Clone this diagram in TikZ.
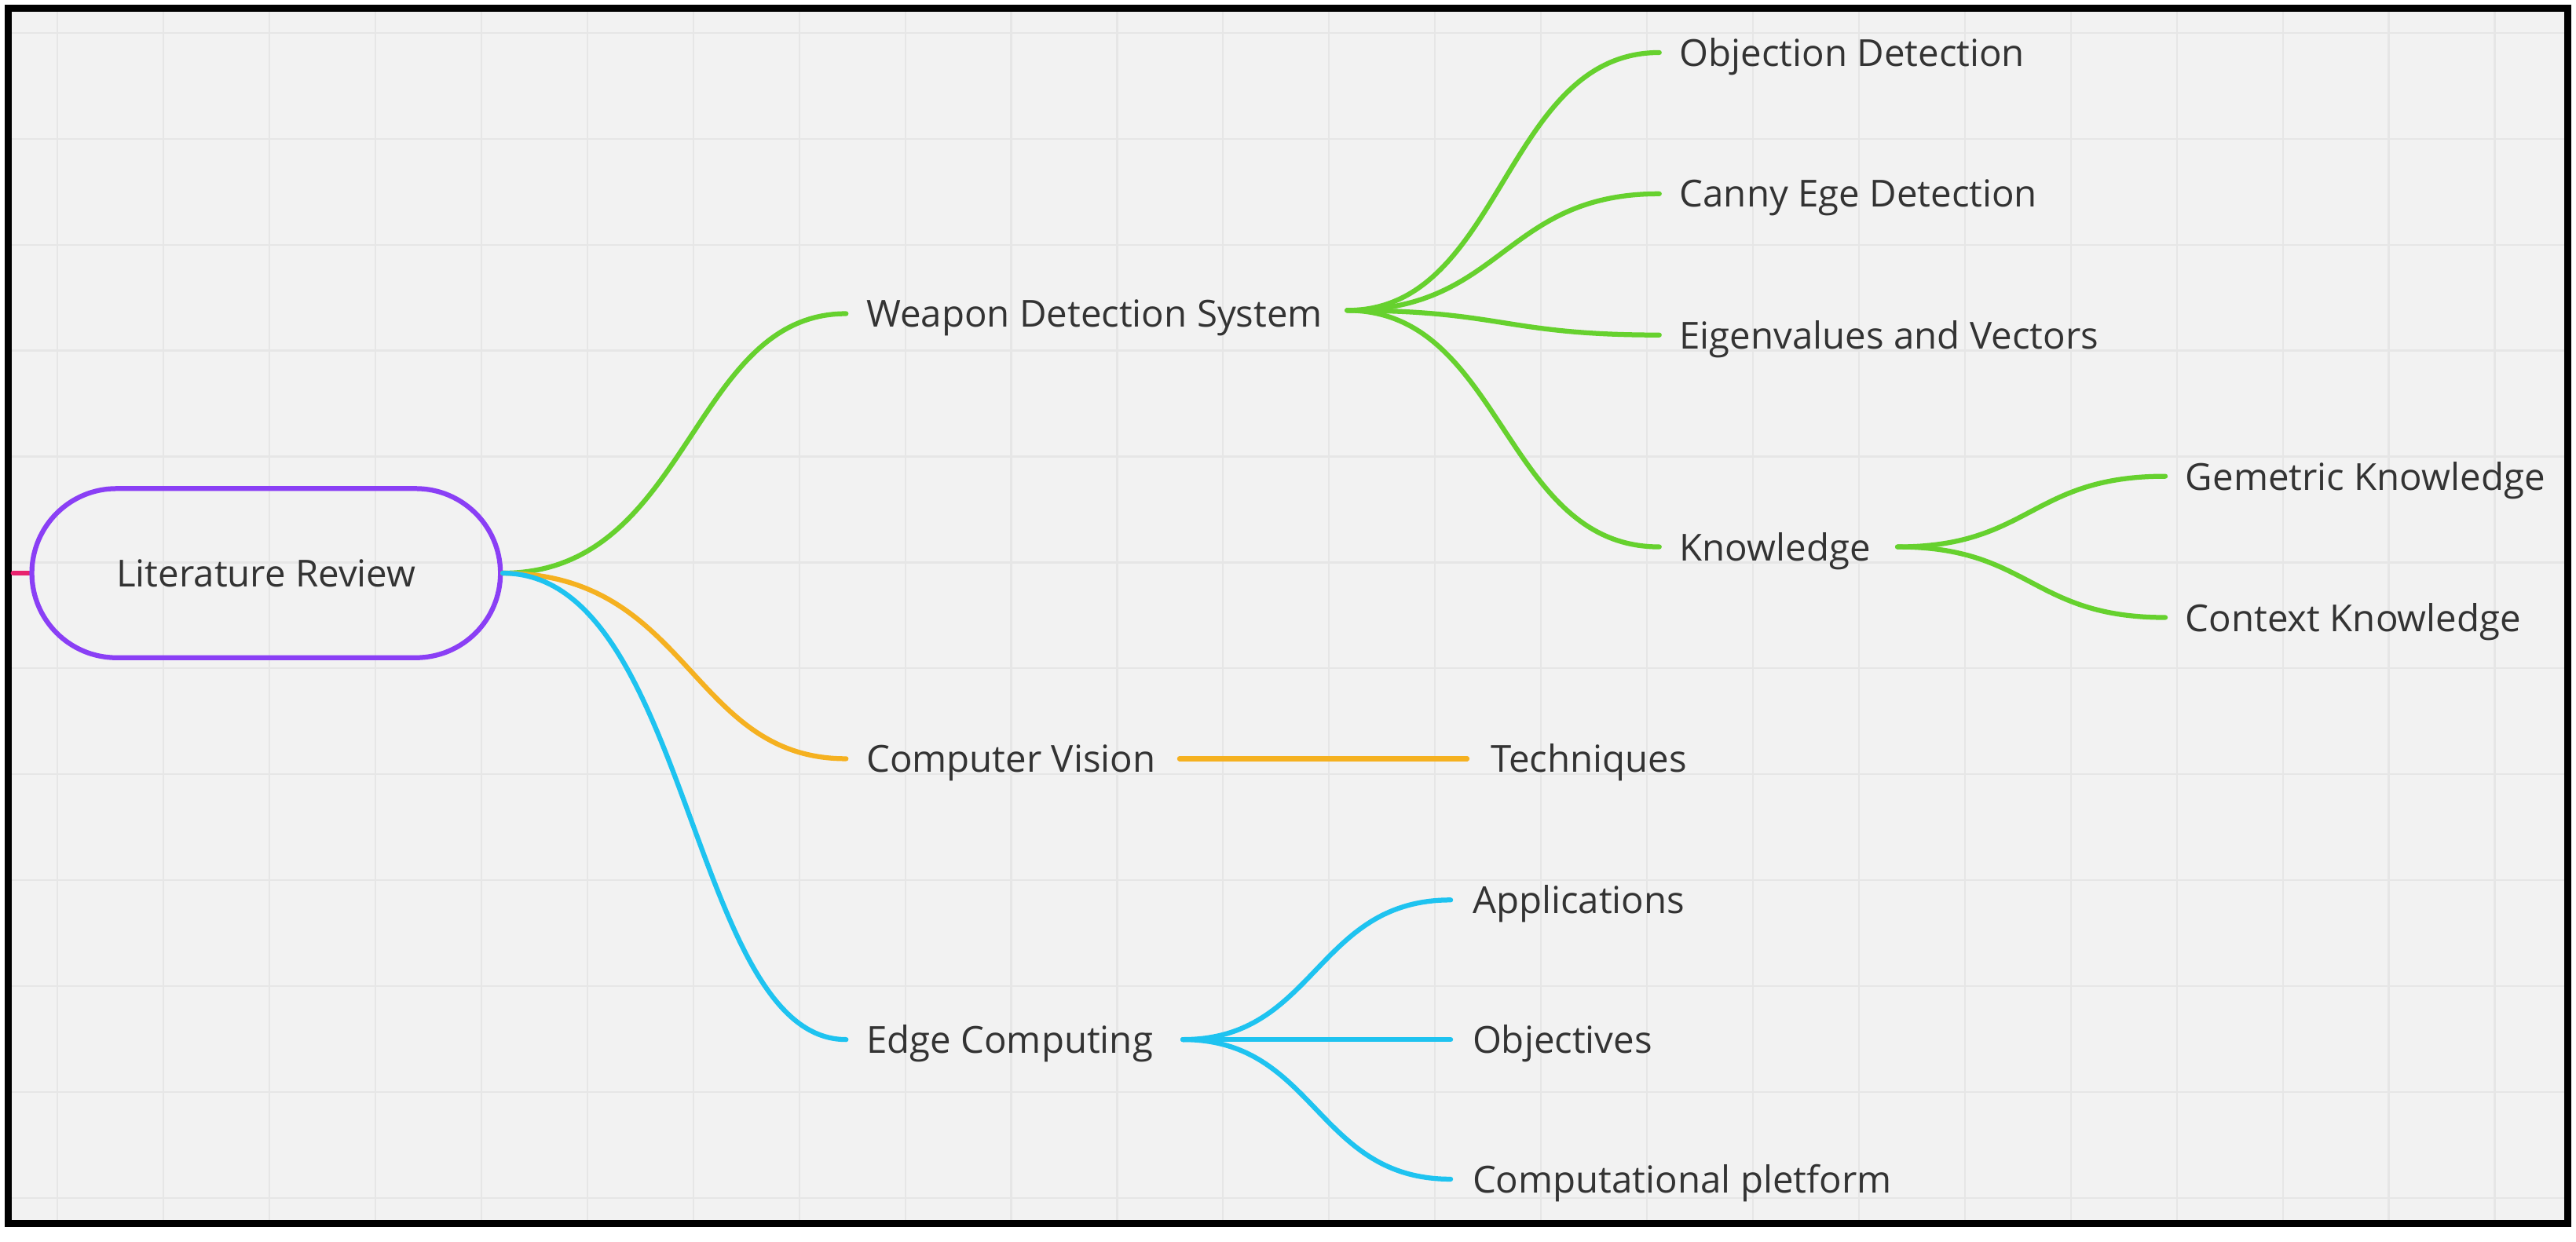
\documentclass[tikz,border=0pt]{standalone}
\usepackage{fontspec}
\setmainfont{Open Sans}
\usetikzlibrary{shapes.misc}
\definecolor{bg}{HTML}{F2F2F2}
\definecolor{gridc}{HTML}{E6E6E6}
\definecolor{tx}{HTML}{333333}
\definecolor{gr}{HTML}{66D12E}
\definecolor{og}{HTML}{F5B120}
\definecolor{bl}{HTML}{1EC3F0}
\definecolor{pu}{HTML}{8A3FF5}
\definecolor{pk}{HTML}{E8226E}
\begin{document}
\begin{tikzpicture}[x=0.02cm,y=-0.02cm,
  lbl/.style={font=\fontsize{12.9}{15}\selectfont, text=tx, inner sep=0pt, anchor=west, yshift=-0.05cm},
  br/.style={line width=1.7pt, line cap=round}]
\useasboundingbox (0,0) rectangle (1568,756);
\fill[white] (0,0) rectangle (1568,756);
\fill[bg] (5,5) rectangle (1563,745);
\begin{scope}
\clip (5,5) rectangle (1563,745);
\foreach \i in {0,...,24} \draw[gridc, line width=0.6pt] (35+64.5*\i,5) -- (35+64.5*\i,745);
\foreach \j in {0,...,11} \draw[gridc, line width=0.6pt] (5,20+64.5*\j) -- (1563,20+64.5*\j);
\end{scope}
\draw[black, line width=2.4pt] (5,5) rectangle (1563,745);

% root
\draw[pk, br] (8,349) -- (18,349);
\node[rounded rectangle, draw=pu, line width=1.7pt, minimum width=5.94cm, minimum height=2.06cm,
  font=\fontsize{12.9}{15}\selectfont, text=tx] (root) at (162,349) {Literature Review};
\coordinate (r) at (306,349);

% level 1
\node[lbl] (wds) at (527,191) {Weapon Detection System};
\node[lbl] (cv) at (527,462) {Computer Vision};
\node[lbl] (ec) at (527,633) {Edge Computing};
\coordinate (wdsL) at (515,191); \coordinate (wdsR) at (820,189);
\coordinate (cvL) at (515,462); \coordinate (cvR) at (718,462);
\coordinate (ecL) at (515,633); \coordinate (ecR) at (720,633);

\draw[gr,br] (r) .. controls (420,349) and (420,191) .. (wdsL);
\draw[og,br] (r) .. controls (420,349) and (420,462) .. (cvL);
\draw[bl,br] (r) .. controls (420,349) and (420,633) .. (ecL);

% WDS children
\node[lbl] (od) at (1022,32) {Objection Detection};
\node[lbl] (ced) at (1022,118) {Canny Ege Detection};
\node[lbl] (ev) at (1022,204) {Eigenvalues and Vectors};
\node[lbl] (kn) at (1022,333) {Knowledge};
\foreach \y in {32,118,204,333}
  \draw[gr,br] (wdsR) .. controls (915,189) and (915,\y) .. (1010,\y);

% Knowledge children
\coordinate (knR) at (1155,333);
\node[lbl] (gk) at (1330,290) {Gemetric Knowledge};
\node[lbl] (ck) at (1330,376) {Context Knowledge};
\foreach \y in {290,376}
  \draw[gr,br] (knR) .. controls (1236,333) and (1236,\y) .. (1318,\y);

% CV child
\node[lbl] (tq) at (907,462) {Techniques};
\draw[og,br] (cvR) -- (893,462);

% EC children
\node[lbl] (ap) at (896,548) {Applications};
\node[lbl] (ob) at (896,633) {Objectives};
\node[lbl] (cp) at (896,718) {Computational pletform};
\foreach \y in {548,633,718}
  \draw[bl,br] (ecR) .. controls (801,633) and (801,\y) .. (883,\y);
\end{tikzpicture}
\end{document}
